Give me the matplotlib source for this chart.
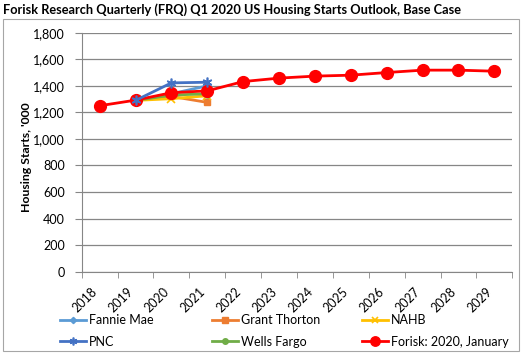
import matplotlib
matplotlib.use("Agg")
import matplotlib.pyplot as plt
from matplotlib.patches import Rectangle
from matplotlib.ticker import FuncFormatter
from matplotlib.transforms import ScaledTranslation

plt.rcParams['font.family'] = ['Lato', 'DejaVu Sans']

years = ["2018", "2019", "2020", "2021", "2022", "2023", "2024", "2025", "2026", "2027", "2028", "2029"]
fannie_mae = [None, 1290, 1340, 1400]
grant_thorton = [None, 1290, 1320, 1275]
nahb = [None, 1290, 1303, 1325]
pnc = [None, 1290, 1422, 1427]
wells_fargo = [None, 1290, 1330, 1340]
forisk = [1250, 1292, 1348, 1362, 1432, 1458, 1473, 1480, 1500, 1518, 1518, 1510]
yticks = [0, 200, 400, 600, 800, 1000, 1200, 1400, 1600, 1800]

W, H = 531, 354
fig = plt.figure(figsize=(W / 100, H / 100), dpi=100)
fig.patches.append(Rectangle((3 / W, 1 - 351 / H), 516 / W, 332 / H, transform=fig.transFigure,
                             fill=False, edgecolor='#A6A6A6', linewidth=0.8))
fig.text(3 / W, 1 - 10 / H, "Forisk Research Quarterly (FRQ) Q1 2020 US Housing Starts Outlook, Base Case",
         fontsize=9.2, fontweight='bold', ha='left', va='center')

ax = fig.add_axes([81.7 / W, 1 - 271.7 / H, (512.3 - 81.7) / W, (271.7 - 32.7) / H])

def xs(vals):
    return [i for i, v in enumerate(vals) if v is not None], [v for v in vals if v is not None]

h_f = ax.plot(*xs(fannie_mae), color='#5B9BD5', lw=2, marker='D', ms=4, label='Fannie Mae')[0]
h_g = ax.plot(*xs(grant_thorton), color='#ED7D31', lw=2, marker='s', ms=5, label='Grant Thorton')[0]
h_n = ax.plot(*xs(nahb), color='#FFC000', lw=2, marker='x', ms=6, mew=1.2, label='NAHB')[0]
h_w = ax.plot(*xs(wells_fargo), color='#70AD47', lw=2, marker='o', ms=5, label='Wells Fargo')[0]
h_r = ax.plot(range(len(forisk)), forisk, color='#FF0000', lw=2, marker='o', ms=8.5,
              label='Forisk: 2020, January', zorder=3)[0]
h_p = ax.plot(*xs(pnc), color='#4472C4', lw=2, marker=(6, 2, 0), ms=7, mew=1.2, label='PNC', zorder=4)[0]

ax.set_xlim(-0.5, len(years) - 0.5)
ax.set_ylim(0, 1800)
ax.set_yticks(yticks)
ax.yaxis.set_major_formatter(FuncFormatter(lambda v, p: f"{int(v):,}"))
ax.set_xticks(range(len(years)))
ax.set_xticklabels(years, rotation=45, ha='right', va='top')
shift = ScaledTranslation(4 / 100, 0, fig.dpi_scale_trans)
for lbl in ax.get_xticklabels():
    lbl.set_transform(lbl.get_transform() + shift)
ax.set_xticks([i - 0.5 for i in range(len(years) + 1)], minor=True)
ax.tick_params(axis='x', which='major', length=0, pad=10, labelsize=9)
ax.tick_params(axis='x', which='minor', length=4, color='#868686')
ax.tick_params(axis='y', length=5, color='#868686', pad=7, labelsize=9)
ax.grid(axis='y', color='#868686', lw=0.9)
ax.set_axisbelow(True)
for s in ['top', 'right']:
    ax.spines[s].set_visible(False)
for s in ['left', 'bottom']:
    ax.spines[s].set_color('#868686')
ax.set_ylabel("Housing Starts, '000", fontsize=8.8, fontweight='bold')
ax.yaxis.set_label_coords(-0.115, 0.48)

columns = [(60, [h_f, h_p]), (212, [h_g, h_w]), (362, [h_n, h_r])]
for x0, hs in columns:
    leg = fig.legend(handles=hs, labels=[h.get_label() for h in hs], ncol=1,
                     loc='center left', bbox_to_anchor=(x0 / W, 1 - 331 / H), frameon=False,
                     fontsize=9, handlelength=2.1, handletextpad=0.2, borderpad=0, borderaxespad=0,
                     labelspacing=0.75, markerscale=0.8)

fig.savefig("out.png", dpi=100)
